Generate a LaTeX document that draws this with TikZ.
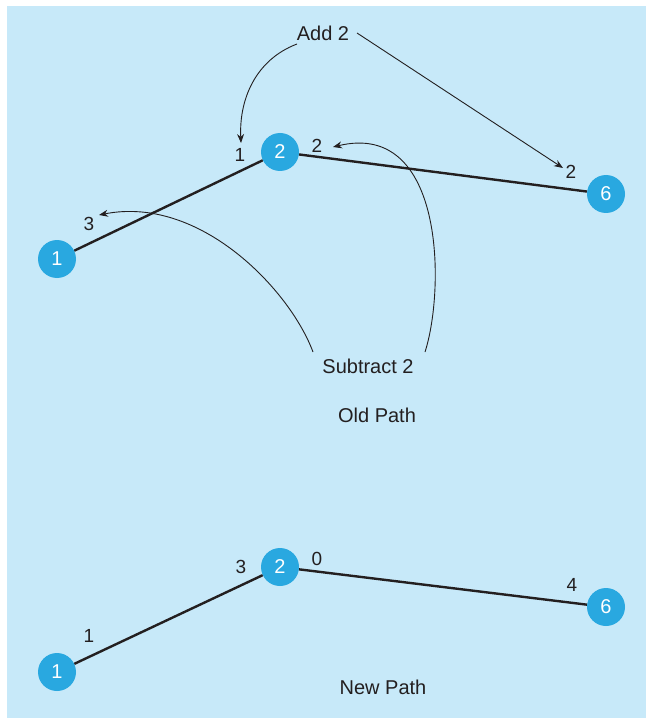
\documentclass[tikz,border=0pt]{standalone}
\usepackage{fontspec}
\setmainfont{Liberation Sans}
\usetikzlibrary{arrows.meta}
\definecolor{bgblue}{HTML}{C7E9F9}
\definecolor{nodeblue}{HTML}{29A8E0}
\definecolor{ink}{HTML}{231F20}
\begin{document}
\begin{tikzpicture}[x=1pt,y=-1pt,
  vert/.style={circle,fill=nodeblue,minimum size=38pt,inner sep=0pt,text=white,font=\fontsize{20}{22}\selectfont},
  lbl/.style={inner sep=1pt,text=ink,font=\fontsize{19}{21}\selectfont},
  ttl/.style={inner sep=1pt,text=ink,font=\fontsize{20}{22}\selectfont},
  edge/.style={draw=ink,line width=2.4pt},
  note/.style={draw=ink,line width=0.9pt,-{Stealth[length=9pt,width=7pt]}}]
\useasboundingbox (0,0) rectangle (646,719);
\fill[bgblue] (7,6) rectangle (646,718);
% Old path
\node[vert] (o1) at (57,259) {1};
\node[vert] (o2) at (280,152) {2};
\node[vert] (o6) at (606,194) {6};
\draw[edge] (o1) -- (o2);
\draw[edge] (o2) -- (o6);
\node[lbl] (ol1) at (240,155) {1};
\node[lbl] (ol2) at (317,146) {2};
\node[lbl] (ol3) at (89,224) {3};
\node[lbl] (ol6) at (571,172) {2};
\node[ttl] (add) at (323,33) {Add 2};
\node[ttl] (sub) at (368,366) {Subtract 2};
\node[ttl] (old) at (377,415) {Old Path};
\coordinate (a1) at (297,44);
\coordinate (a1e) at (241,143);
\coordinate (a2) at (357,33);
\coordinate (a2e) at (563,168);
\coordinate (s1) at (313,352);
\coordinate (s1e) at (99,215);
\coordinate (s2) at (425,352);
\coordinate (s2e) at (333,147);
\draw[note] (a1) .. controls (255,60) and (239,100) .. (a1e);
\draw[note] (a2) -- (a2e);
\draw[note] (s1) .. controls (290,290) and (200,195) .. (s1e);
\draw[note] (s2) .. controls (445,290) and (445,120) .. (s2e);
% New path
\node[vert] (n1) at (57,672) {1};
\node[vert] (n2) at (280,567) {2};
\node[vert] (n6) at (606,607) {6};
\draw[edge] (n1) -- (n2);
\draw[edge] (n2) -- (n6);
\node[lbl] (nl1) at (89,636) {1};
\node[lbl] (nl3) at (241,567) {3};
\node[lbl] (nl0) at (317,559) {0};
\node[lbl] (nl4) at (572,585) {4};
\node[ttl] (new) at (383,687) {New Path};
\end{tikzpicture}
\end{document}
